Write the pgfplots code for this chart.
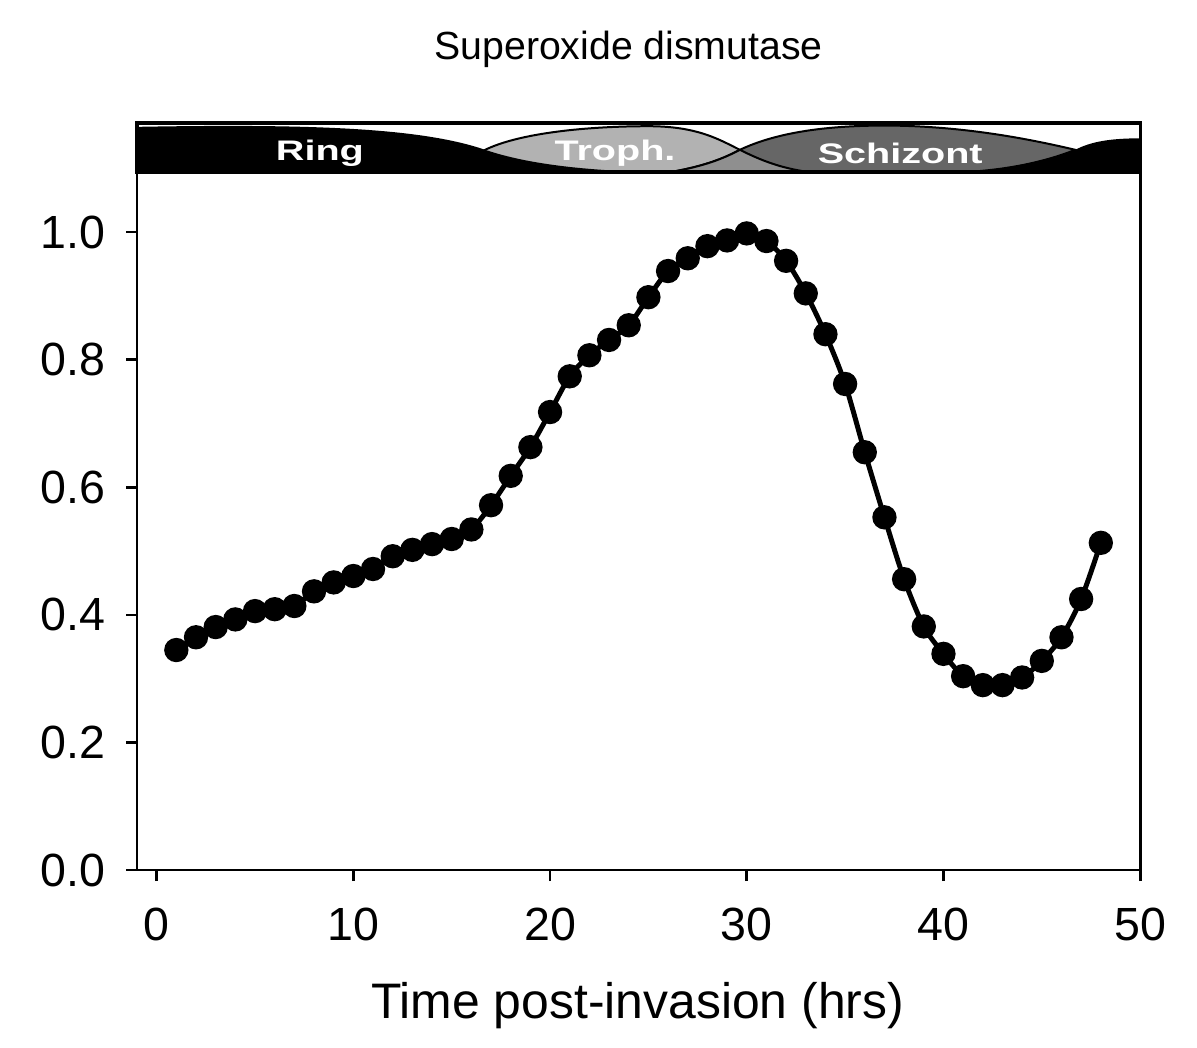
\documentclass[border=0pt]{standalone}
\usepackage{pgfplots}
\pgfplotsset{compat=1.18}
\usepackage{fontspec}
\setmainfont{Liberation Sans}
\newfontfamily\bandfont[FakeStretch=1.4]{Liberation Sans}

\definecolor{troph}{gray}{0.70}
\definecolor{schiz}{gray}{0.40}
\definecolor{overl}{gray}{0.56}

\begin{document}
\begin{tikzpicture}
\begin{axis}[
  scale only axis, width=301.7pt, height=224.7pt,
  xmin=-1, xmax=50, ymin=0, ymax=1.171,
  axis line style={line width=0.8pt},
  xtick={0,10,20,30,40,50}, ytick={0,0.2,0.4,0.6,0.8,1.0},
  xtick pos=bottom, ytick pos=left,
  tick align=outside, major tick length=3.3pt,
  tick style={line width=0.8pt, black},
  /pgf/number format/assume math mode=true,
  ticklabel style={font=\fontsize{14}{16}\selectfont},
  xticklabel style={anchor=north, inner sep=0pt, yshift=-8pt},
  yticklabel style={anchor=east, inner sep=0pt, xshift=-6pt, /pgf/number format/.cd, fixed, fixed zerofill, precision=1},
  clip=false,
]
% stage band
\fill[troph, draw=black, line width=0.6pt] (axis cs:14,1.094) .. controls (axis cs:15.5,1.11) .. (axis cs:16.7,1.129) .. controls (axis cs:18.5,1.156) and (axis cs:22,1.166) .. (axis cs:25,1.166) .. controls (axis cs:27.5,1.166) and (axis cs:28.6,1.145) .. (axis cs:29.65,1.129) .. controls (axis cs:31,1.108) and (axis cs:32,1.099) .. (axis cs:33.2,1.094) -- cycle;
\fill[schiz, draw=black, line width=0.6pt] (axis cs:26.1,1.094) .. controls (axis cs:27.8,1.103) and (axis cs:28.8,1.115) .. (axis cs:29.65,1.129) .. controls (axis cs:31.5,1.156) and (axis cs:34,1.167) .. (axis cs:37,1.167) .. controls (axis cs:41,1.167) and (axis cs:44.5,1.145) .. (axis cs:46.7,1.129) .. controls (axis cs:45,1.108) and (axis cs:43,1.097) .. (axis cs:41,1.094) -- cycle;
\fill[overl, draw=black, line width=0.6pt] (axis cs:26.1,1.094) .. controls (axis cs:27.8,1.103) and (axis cs:28.8,1.115) .. (axis cs:29.65,1.129) .. controls (axis cs:31,1.108) and (axis cs:32,1.099) .. (axis cs:33.2,1.094) -- cycle;
\fill[black] (axis cs:-1,1.094) -- (axis cs:-1,1.165) .. controls (axis cs:8,1.170) and (axis cs:13.5,1.163) .. (axis cs:16.7,1.129) .. controls (axis cs:19,1.105) and (axis cs:22,1.097) .. (axis cs:25,1.094) -- cycle;
\fill[black] (axis cs:41,1.094) .. controls (axis cs:43,1.097) and (axis cs:45,1.11) .. (axis cs:46.7,1.129) .. controls (axis cs:47.5,1.142) and (axis cs:48.5,1.147) .. (axis cs:50,1.147) -- (axis cs:50,1.094) -- cycle;
\draw[line width=1pt] (axis cs:-1,1.094) rectangle (axis cs:50,1.171);
\node[text=white, font=\bandfont\bfseries\fontsize{8.5}{9}\selectfont] at (axis cs:8.3,1.124) {Ring};
\node[text=white, font=\bandfont\bfseries\fontsize{8.5}{9}\selectfont] at (axis cs:23.3,1.124) {Troph.};
\node[text=white, font=\bandfont\bfseries\fontsize{8.5}{9}\selectfont] at (axis cs:37.8,1.124) {Schizont};

\addplot[black, line width=1.5pt, smooth, mark=*, mark size=2.9pt, mark options={solid, fill=black}] coordinates {
(1,0.345) (2,0.365) (3,0.381) (4,0.393) (5,0.406) (6,0.409) (7,0.414) (8,0.437)
(9,0.451) (10,0.461) (11,0.472) (12,0.492) (13,0.502) (14,0.511) (15,0.519) (16,0.534)
(17,0.572) (18,0.618) (19,0.663) (20,0.718) (21,0.774) (22,0.807) (23,0.831) (24,0.854)
(25,0.898) (26,0.939) (27,0.959) (28,0.978) (29,0.987) (30,0.998) (31,0.986) (32,0.955)
(33,0.904) (34,0.840) (35,0.762) (36,0.655) (37,0.553) (38,0.456) (39,0.382) (40,0.339)
(41,0.304) (42,0.290) (43,0.290) (44,0.302) (45,0.328) (46,0.365) (47,0.425) (48,0.513)
};

\node[anchor=base, yshift=19pt, font=\fontsize{11.8}{13}\selectfont] at (rel axis cs:0.49,1) {Superoxide dismutase};
\node[anchor=base, yshift=-44.5pt, font=\fontsize{15}{17}\selectfont] at (rel axis cs:0.499,0) {Time post-invasion (hrs)};
\coordinate (bl) at (rel axis cs:0,0);
\coordinate (tr) at (rel axis cs:1,1);
\end{axis}
\pgfresetboundingbox
\path[use as bounding box] ([xshift=-41.2pt,yshift=-53.2pt]bl) rectangle ([xshift=17.1pt,yshift=37pt]tr);
\end{tikzpicture}
\end{document}
